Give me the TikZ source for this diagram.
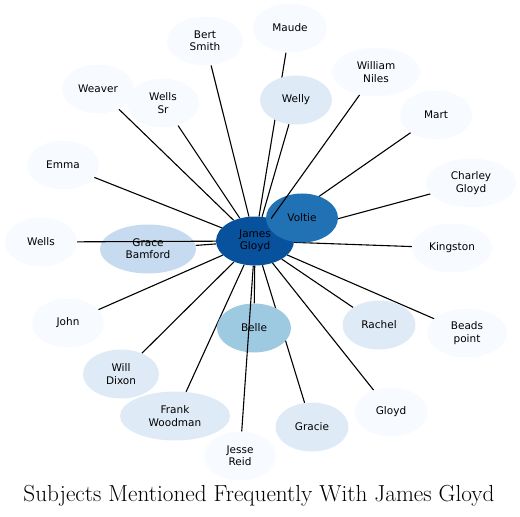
\documentclass[tikz,border=0pt]{standalone}
\usepackage{fontspec}
\newfontfamily\labelfont{DejaVu Sans}
\usetikzlibrary{shapes.geometric, backgrounds}

% shades of the Blues scale
\definecolor{blueA}{RGB}{247,251,255}
\definecolor{blueB}{RGB}{222,235,247}
\definecolor{blueC}{RGB}{198,219,239}
\definecolor{blueD}{RGB}{158,202,225}
\definecolor{blueE}{RGB}{33,113,181}
\definecolor{blueF}{RGB}{8,81,156}

\tikzset{
	subject/.style={ellipse, draw=none, fill=blueA, inner sep=0pt,
		minimum width=73bp, minimum height=49bp, align=center,
		font=\labelfont\fontsize{10.5bp}{12.3bp}\selectfont},
	link/.style={line width=1.1bp, black},
}

\begin{document}
\begin{tikzpicture}[x=1bp, y=-1bp]
		
		\useasboundingbox (0,0) rectangle (520,517);
		
		% Subjects, James Gloyd in the middle
		\foreach \id/\x/\y/\w/\shade/\txt in {
			james/255/241/78/blueF/{James\\Gloyd},
			voltie/302/218/72/blueE/{Voltie},
			bert/205/41/76/blueA/{Bert\\Smith},
			maude/290/28/74/blueA/{Maude},
			william/376/72/88/blueA/{William\\Niles},
			weaver/98/89/72/blueA/{Weaver},
			wellssr/163/103/72/blueA/{Wells\\Sr},
			welly/296/100/72/blueB/{Welly},
			mart/436/115/72/blueA/{Mart},
			emma/63/165/72/blueA/{Emma},
			charley/471/183/90/blueA/{Charley\\Gloyd},
			wells/41/242/72/blueA/{Wells},
			grace/148/249/96/blueC/{Grace\\Bamford},
			kingston/452/248/80/blueA/{Kingston},
			john/68/323/72/blueA/{John},
			beads/467/333/80/blueA/{Beads\\point},
			belle/254/328/74/blueD/{Belle},
			rachel/379/325/73/blueB/{Rachel},
			willdixon/121/374/76/blueB/{Will\\Dixon},
			frank/175/416/110/blueB/{Frank\\Woodman},
			gracie/312/427/73/blueB/{Gracie},
			gloyd/391/412/73/blueA/{Gloyd},
			jesse/240/456/72/blueA/{Jesse\\Reid}}{
			\node[subject, fill=\shade, minimum width=\w bp] (\id) at (\x,\y) {\txt};
		}
		
		% Links that pass under the other subjects
		\begin{scope}[on background layer]
			\foreach \id in {voltie, bert, maude, weaver, wellssr, welly, mart, emma,
				charley, grace, kingston, john, beads, belle, rachel, willdixon,
				frank, gracie, gloyd}
				\draw[link] (james) -- (\id);
		\end{scope}
		
		% Links drawn over the subjects they cross
		\foreach \id in {wells, william, jesse}
			\draw[link] (james) -- (\id);
		
		\node[anchor=base] (title) at (259,501.7)
			{\fontsize{23.2bp}{27bp}\selectfont Subjects Mentioned Frequently With James Gloyd};
	\end{tikzpicture}
\end{document}
